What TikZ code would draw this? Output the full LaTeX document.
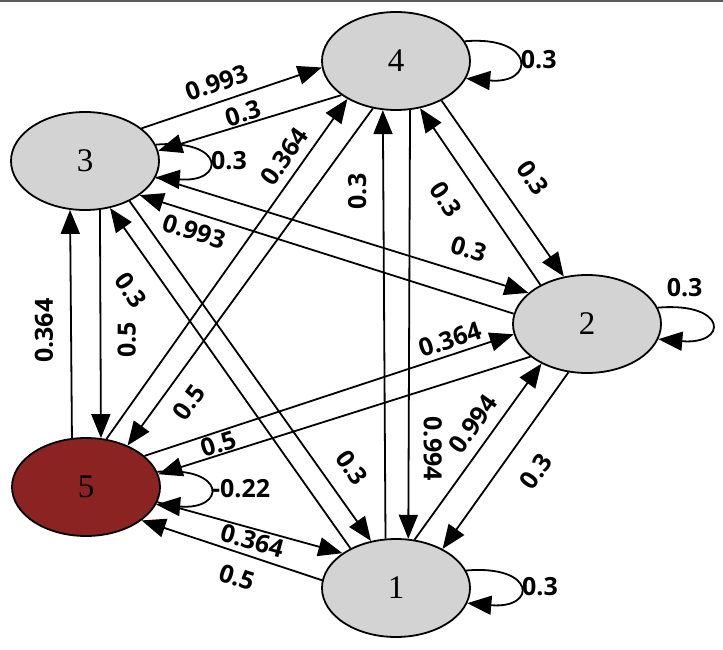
\documentclass[tikz,border=0pt]{standalone}
\usepackage{fontspec}
\setmainfont{Liberation Serif}
\newfontfamily\edgefont{Open Sans}
\usetikzlibrary{arrows.meta, shapes.geometric}
\definecolor{stateGray}{RGB}{211,211,211}
\definecolor{stateRed}{RGB}{139,35,35}
\definecolor{ruleGray}{RGB}{90,90,90}
\tikzset{
    state/.style={ellipse, draw, line width=1.8pt, fill=stateGray, minimum width=148pt, minimum height=98pt, inner sep=0pt, font=\fontsize{33}{33}\selectfont},
    arcEdge/.style={-{Triangle[length=24pt, width=19pt]}, line width=1.8pt},
    arcLabel/.style={font=\edgefont\fontsize{25}{25}\selectfont\bfseries, inner sep=2pt},
    topRule/.style={ruleGray, line width=2pt},
}
\newcommand{\drawArc}[5][sloped, above]{
    \draw[arcEdge] (#2) -- node[arcLabel, pos=#4, #1] {#5} (#3);
}
\newcommand{\drawLoop}[5][pos=0.5, right]{
    \draw[arcEdge] (#2.#3) .. controls +(70,-6) and +(70,6) .. node[arcLabel, #1] {#5} (#2.#4);
}

\begin{document}
\begin{tikzpicture}[x=1pt, y=-1pt]
    \useasboundingbox (0,0) rectangle (723,650);
    \draw[topRule] (0,1) -- (723,1);

    \node[state] (n4) at (396,61) {4};
    \node[state] (n3) at (85,161) {3};
    \node[state] (n2) at (587,324) {2};
    \node[state, fill=stateRed] (n5) at (86,487) {5};
    \node[state] (n1) at (396,588) {1};

    % self loops
    \drawLoop{n4}{16}{346}{0.3}
    \drawLoop{n3}{13}{347}{0.3}
    \drawLoop[pos=0.15, above, inner ysep=10pt]{n2}{13}{348}{0.3}
    \drawLoop{n5}{12}{346}{-0.22}
    \drawLoop{n1}{14}{348}{0.3}

    % edges between states
    \drawArc[sloped, above, inner ysep=9pt]{n3.30}{n4.185}{0.45}{0.993}
    \drawArc[sloped, above, inner ysep=1pt]{n4.212}{n3.8}{0.52}{0.3}
    \drawArc[sloped, above, inner ysep=8pt]{n5.67}{n4.218}{0.80}{0.364}
    \drawArc[sloped, below, inner ysep=14pt]{n4.244}{n5.45}{0.83}{0.5}
    \drawArc[rotate=90, above, inner ysep=16pt]{n1.102}{n4.255}{0.81}{0.3}
    \drawArc[rotate=-90, above, inner ysep=14pt]{n4.286}{n1.76}{0.79}{0.994}
    \drawArc[sloped, above, inner ysep=21pt]{n4.319}{n2.116}{0.54}{0.3}
    \drawArc[sloped, below, inner ysep=20pt]{n2.140}{n4.297}{0.58}{0.3}
    \drawArc[sloped, above, inner ysep=14pt]{n3.347}{n2.152}{0.82}{0.3}
    \drawArc[sloped, below, inner ysep=8pt]{n2.172}{n3.328}{0.84}{0.993}
    \drawArc[sloped, above, inner ysep=10pt]{n1.69}{n2.221}{0.59}{0.994}
    \drawArc[sloped, below, inner ysep=21pt]{n2.249}{n1.40}{0.46}{0.3}
    \drawArc[sloped, above, inner ysep=5pt]{n5.28}{n2.188}{0.84}{0.364}
    \drawArc[sloped, above, inner ysep=1pt]{n2.210}{n5.10}{0.83}{0.5}
    \drawArc[sloped, below, inner ysep=2pt]{n5.348}{n1.147}{0.53}{0.364}
    \drawArc[sloped, below, inner ysep=14pt]{n1.174}{n5.329}{0.43}{0.5}
    \drawArc[rotate=90, below, inner ysep=16pt]{n3.287}{n5.73}{0.57}{0.5}
    \drawArc[rotate=90, above, inner ysep=17pt]{n5.106}{n3.253}{0.47}{0.364}
    \drawArc[sloped, above, inner ysep=17pt]{n3.318}{n1.118}{0.83}{0.3}
    \drawArc[sloped, below, inner ysep=20pt]{n1.139}{n3.298}{0.81}{0.3}
\end{tikzpicture}
\end{document}
